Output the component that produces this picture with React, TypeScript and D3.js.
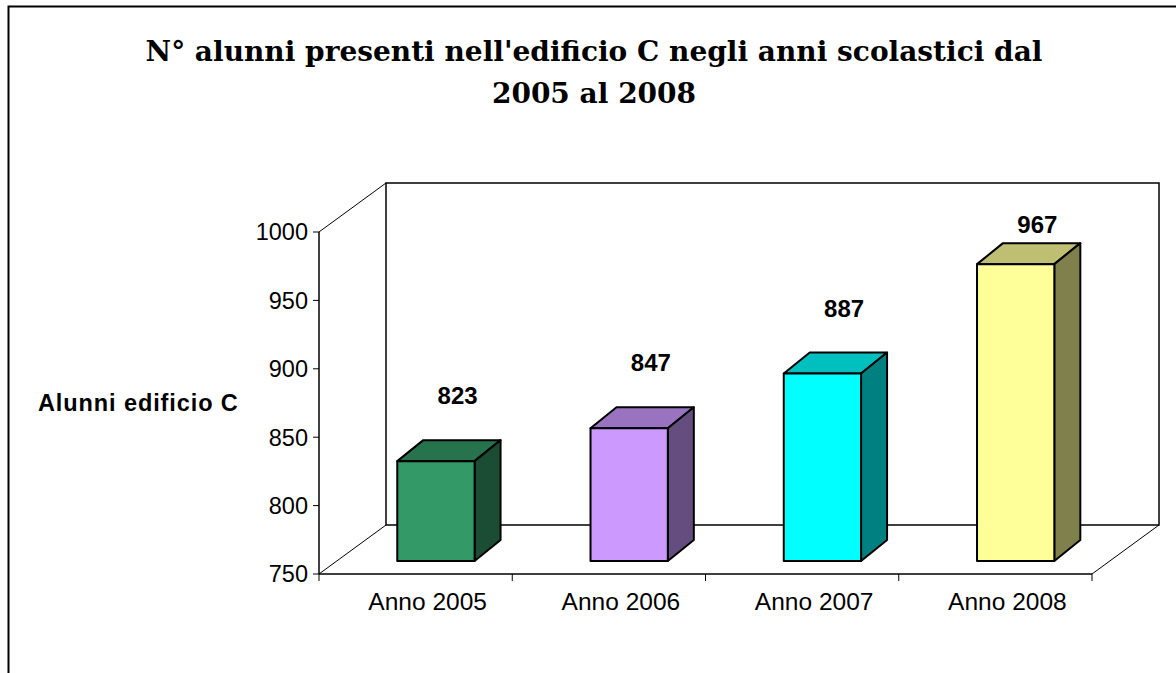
import React from 'react';
import * as d3 from 'd3';

// dati
const categories = ['Anno 2005', 'Anno 2006', 'Anno 2007', 'Anno 2008'];
const values = [823, 847, 887, 967];
const yTicks = [750, 800, 850, 900, 950, 1000];
const frontColors = ['#339966', '#CC99FF', '#00FFFF', '#FFFF99'];

const titleLines = ["N° alunni presenti nell'edificio C negli anni scolastici dal", '2005 al 2008'];
const axisTitle = 'Alunni edificio C';

const W = 1176;
const H = 673;
const sans = 'Liberation Sans, Arial, sans-serif';

// ombreggiatura stile Excel: faccia superiore 75%, lato 50%
const shade = (hex: string, k: number) => {
  const c = d3.rgb(hex);
  return d3.rgb(c.r * k, c.g * k, c.b * k).formatHex();
};

const App: React.FC = () => {
  // piano frontale del grafico 3D
  const left = 319;
  const right = 1092;
  const y = d3.scaleLinear().domain([750, 1000]).range([574, 232]);
  const x = d3.scaleBand<string>().domain(categories).range([left, right]).padding(0);
  const bw = x.bandwidth();

  // profondità del piano (muro di fondo)
  const DX = 67;
  const DY = -49;
  // barre: spostamento dal piano frontale e profondità propria
  const barLift = 13;
  const bdx = 26;
  const bdy = -21;
  const barW = bw * 0.4;

  const y0 = y(750);
  const yTop = y(1000);
  const backTop = yTop + DY;

  return (
    <svg width={W} height={H} style={{ display: 'block', position: 'absolute', left: 0, top: 0 }}>
      <rect x={0} y={0} width={W} height={H} fill="#fff" />
      <rect x={8.5} y={6.5} width={W + 20} height={H + 20} fill="none" stroke="#000" strokeWidth={2} />

      {titleLines.map((t, i) => (
        <text
          key={t}
          x={594}
          y={61 + i * 42}
          textAnchor="middle"
          fontFamily="DejaVu Serif, serif"
          fontWeight="bold"
          fontSize={28}
        >
          {t}
        </text>
      ))}

      {/* pareti */}
      <g fill="none" stroke="#000">
        <line x1={left} y1={yTop} x2={left + DX} y2={backTop} strokeWidth={1} />
        <line x1={left} y1={y0} x2={left + DX} y2={y0 + DY} strokeWidth={1} />
        <line x1={right} y1={y0} x2={right + DX} y2={y0 + DY} strokeWidth={1} />
        <rect x={left + DX} y={backTop} width={right - left} height={y0 - yTop} strokeWidth={1.5} />
        <line x1={left} y1={yTop} x2={left} y2={y0} strokeWidth={1.5} />
        <line x1={left} y1={y0} x2={right} y2={y0} strokeWidth={1.5} />
      </g>

      {/* asse y */}
      {yTicks.map((t) => (
        <g key={t}>
          <line x1={left - 6} x2={left} y1={y(t)} y2={y(t)} stroke="#000" strokeWidth={1} />
          <text x={left - 11} y={y(t)} dy="0.36em" textAnchor="end" fontFamily={sans} fontSize={23.5}>
            {t}
          </text>
        </g>
      ))}
      <text
        x={38}
        y={y(875)}
        dy="0.36em"
        fontFamily={sans}
        fontWeight="bold"
        fontSize={23.5}
        letterSpacing={0.9}
      >
        {axisTitle}
      </text>

      {/* asse x */}
      {[...categories.map((c) => x(c) as number), right].map((px, i) => (
        <line key={i} x1={px} x2={px} y1={y0} y2={y0 + 7} stroke="#000" strokeWidth={1} />
      ))}
      {categories.map((c) => (
        <text
          key={c}
          x={(x(c) as number) + bw / 2 + 12}
          y={y0 + 36}
          textAnchor="middle"
          fontFamily={sans}
          fontSize={24.5}
        >
          {c}
        </text>
      ))}

      {/* barre 3D */}
      {categories.map((c, i) => {
        const v = values[i];
        const fx = (x(c) as number) + bw * 0.405;
        const fyTop = y(v) - barLift;
        const fyBot = y0 - barLift;
        const top = shade(frontColors[i], 0.75);
        const side = shade(frontColors[i], 0.5);
        const topPath = d3.path();
        topPath.moveTo(fx, fyTop);
        topPath.lineTo(fx + bdx, fyTop + bdy);
        topPath.lineTo(fx + barW + bdx, fyTop + bdy);
        topPath.lineTo(fx + barW, fyTop);
        topPath.closePath();
        const sidePath = d3.path();
        sidePath.moveTo(fx + barW, fyTop);
        sidePath.lineTo(fx + barW + bdx, fyTop + bdy);
        sidePath.lineTo(fx + barW + bdx, fyBot + bdy);
        sidePath.lineTo(fx + barW, fyBot);
        sidePath.closePath();
        const labelY = Math.max(fyTop + bdy - 36, backTop + 50);
        return (
          <g key={c} stroke="#000" strokeWidth={2} strokeLinejoin="round">
            <path d={topPath.toString()} fill={top} />
            <path d={sidePath.toString()} fill={side} />
            <rect x={fx} y={fyTop} width={barW} height={fyBot - fyTop} fill={frontColors[i]} />
            <text
              x={(x(c) as number) + bw / 2 + 42}
              y={labelY}
              textAnchor="middle"
              stroke="none"
              fontFamily={sans}
              fontWeight="bold"
              fontSize={24}
            >
              {v}
            </text>
          </g>
        );
      })}
    </svg>
  );
};

export default App;
